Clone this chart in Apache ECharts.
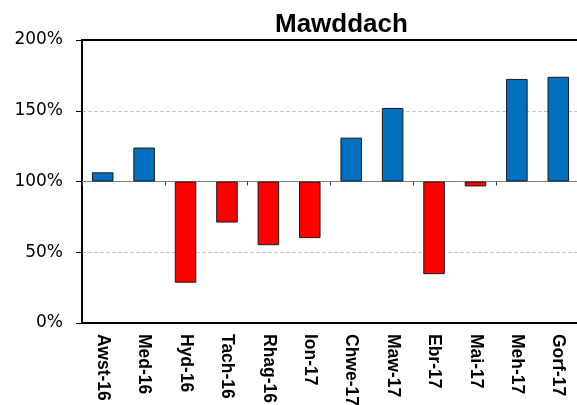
<!DOCTYPE html>
<html>
<head>
<meta charset="utf-8">
<script src="https://cdn.jsdelivr.net/npm/echarts@6/dist/echarts.min.js"></script>
<style>
  html, body { margin: 0; padding: 0; background: #fff; }
  #chart { width: 577px; height: 405px; }
</style>
</head>
<body>
<div id="chart"></div>
<script>
// monthly values, % of average
const months = ['Awst-16', 'Med-16', 'Hyd-16', 'Tach-16', 'Rhag-16', 'Ion-17',
                'Chwe-17', 'Maw-17', 'Ebr-17', 'Mai-17', 'Meh-17', 'Gorf-17'];
const percent = [106.5, 124, 28.5, 71, 55, 60, 131, 152, 34.5, 96.5, 172.5, 174];
const baseline = 100;

const chart = echarts.init(document.getElementById('chart'));

// bars hang from the 100% line, so plot the difference from it
const barData = percent.map(v => ({
    value: v - baseline,
    itemStyle: { color: v >= baseline ? '#0070C0' : '#FF0000' }
}));

const option = {
    animation: false,
    textStyle: { fontFamily: 'Liberation Sans, Arial, sans-serif' },
    title: {
        text: 'Mawddach',
        left: 270,
        top: 7,
        textStyle: { fontSize: 26, fontWeight: 'bold', color: '#000' }
    },
    grid: {
        left: 82, right: -2, top: 40, bottom: 82,
        outerBoundsMode: 'none',
        containLabel: false,
        show: true,
        borderColor: '#000',
        borderWidth: 2
    },
    xAxis: [{
        // line through 100%
        type: 'category',
        data: months,
        axisLine: { onZero: true, lineStyle: { color: '#808080', width: 1 } },
        axisTick: { show: true, length: 4, lineStyle: { color: '#404040' } },
        axisLabel: { show: false }
    }, {
        // month names along the bottom
        type: 'category',
        data: months,
        position: 'bottom',
        axisLine: { onZero: false, lineStyle: { color: '#000', width: 2 } },
        axisTick: { show: false },
        axisLabel: {
            rotate: -90,
            margin: 11,
            fontSize: 17.5,
            fontWeight: 'bold',
            color: '#000',
            interval: 0
        }
    }],
    yAxis: {
        type: 'value',
        min: -100,
        max: 100,
        interval: 50,
        axisLine: { show: true, lineStyle: { color: '#000', width: 2 } },
        axisTick: { show: true, length: 6, lineStyle: { color: '#000' } },
        axisLabel: {
            margin: 19,
            fontSize: 17,
            fontFamily: 'DejaVu Sans',
            color: '#000',
            formatter: v => (v + baseline) + '%'
        },
        splitLine: {
            showMinLine: false,
            showMaxLine: false,
            lineStyle: { color: '#c8c8c8', type: 'dashed', width: 1 }
        }
    },
    series: [{
        type: 'bar',
        data: barData,
        barWidth: '52%',
        itemStyle: { borderColor: '#1a1a1a', borderWidth: 1 }
    }]
};

chart.setOption(option);
</script>
</body>
</html>
